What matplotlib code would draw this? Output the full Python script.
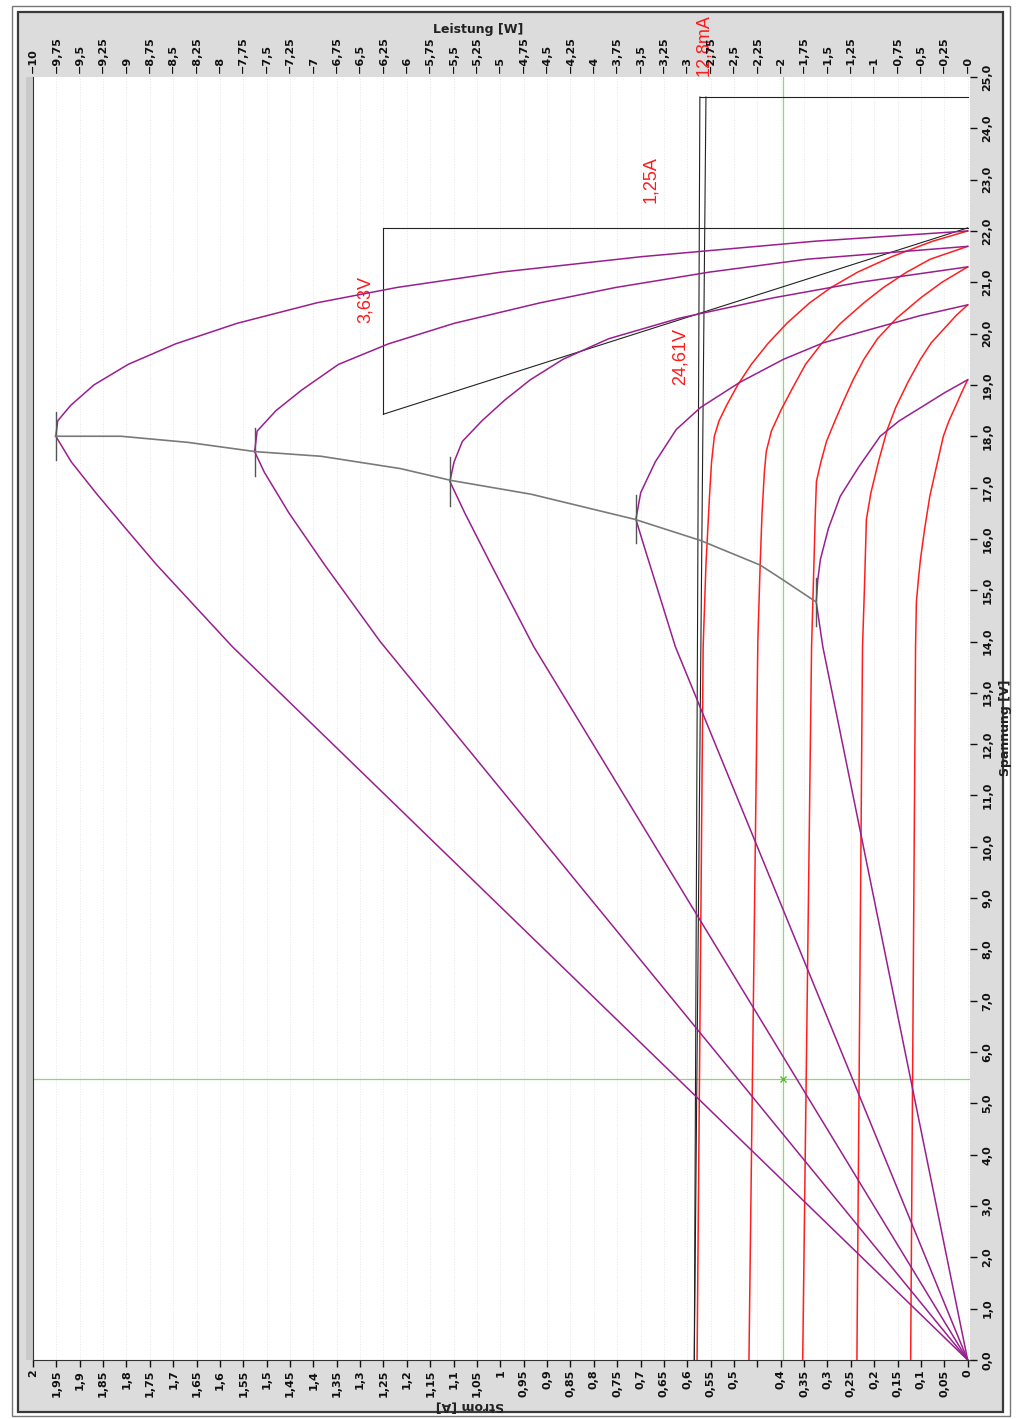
import numpy as np
import matplotlib
matplotlib.use("Agg")
import matplotlib.pyplot as plt
from matplotlib.patches import Rectangle

# Kennlinien (Spannung [V], Strom [A]) bei fünf Einstrahlungen
u1 = [0, 13.9, 15.5, 16.2, 16.9, 17.5, 18.0, 18.3, 18.6, 19.0, 19.4, 19.8, 20.2, 20.6, 20.9, 21.2, 21.5, 21.8, 22.0]
i1 = [0.579, 0.566, 0.560, 0.556, 0.552, 0.548, 0.542, 0.532, 0.516, 0.492, 0.463, 0.428, 0.387, 0.338, 0.292,
      0.235, 0.162, 0.075, 0.0]

u2 = [0, 14.0, 15.5, 16.5, 17.3, 17.7, 18.1, 18.5, 18.9, 19.4, 19.8, 20.2, 20.6, 20.9, 21.2, 21.45, 21.7]
i2 = [0.468, 0.449, 0.444, 0.440, 0.435, 0.431, 0.420, 0.400, 0.377, 0.347, 0.313, 0.272, 0.222, 0.180, 0.130,
      0.080, 0.0]

u3 = [0, 13.9, 15.5, 16.5, 17.12, 17.5, 17.9, 18.3, 18.7, 19.1, 19.5, 19.9, 20.3, 20.7, 21.0, 21.3]
i3 = [0.353, 0.334, 0.329, 0.326, 0.3236, 0.314, 0.302, 0.284, 0.265, 0.245, 0.222, 0.193, 0.152, 0.100, 0.055, 0.0]

u4 = [0, 13.9, 15.0, 15.8, 16.38, 16.9, 17.5, 18.13, 18.56, 19.05, 19.5, 19.82, 20.08, 20.35, 20.56]
i4 = [0.237, 0.225, 0.221, 0.2185, 0.2167, 0.207, 0.191, 0.172, 0.154, 0.128, 0.101, 0.078, 0.052, 0.025, 0.0]

u5 = [0, 13.9, 14.77, 15.2, 15.6, 16.2, 16.83, 17.4, 18.0, 18.3, 18.58, 18.85, 19.1]
i5 = [0.122, 0.1115, 0.1097, 0.1055, 0.101, 0.092, 0.081, 0.067, 0.052, 0.040, 0.026, 0.013, 0.0]

kennlinien = [(u1, i1), (u2, i2), (u3, i3), (u4, i4), (u5, i5)]

# MPP-Spur (Leistung [W], Spannung [V])
mpp_p = [-9.76, -9.06, -8.34, -7.62, -6.92, -6.07, -5.53, -4.67, -3.56, -2.86, -2.22, -2.0, -1.62]
mpp_u = [18.0, 18.0, 17.88, 17.70, 17.61, 17.37, 17.14, 16.87, 16.38, 15.97, 15.49, 15.23, 14.77]

# Steigungsdreiecke
dreieck_i = [1.25, 0.0]
dreieck_u = [18.43, 22.06]
parallel_i = [0.585, 0.573, 0.560]
parallel_u = [0.0, 24.61]

# Cursor
cursor_i = 0.395
cursor_u = 5.47

strom_ticks = np.round(np.arange(0, 2.0001, 0.05), 2)
leistung_ticks = np.round(np.arange(-10, 0.0001, 0.25), 2)
spannung_ticks = np.arange(0, 25.5, 1.0)

lila = "#9a1f8e"
rot = "#ff1e1e"
gruen = "#8fdc5c"

W, H = 1019, 1419
fig = plt.figure(figsize=(W / 100, H / 100), dpi=100, facecolor="white")

# grauer Fensterrahmen
fig.patches.append(Rectangle((18 / W, 7 / H), 985 / W, 1400 / H, transform=fig.transFigure,
                             facecolor="#dcdcdc", edgecolor="#3a3a3a", lw=1.6, zorder=-10))
fig.patches.append(Rectangle((12 / W, 3 / H), 998 / W, 1410 / H, transform=fig.transFigure,
                             facecolor="none", edgecolor="#777777", lw=1.0, zorder=-10))
fig.patches.append(Rectangle((26 / W, 59 / H), 7 / W, 1283 / H, transform=fig.transFigure,
                             facecolor="#c9c9c9", edgecolor="none", zorder=-9))

ax = fig.add_axes([33 / W, 59 / H, 937 / W, 1283 / H])
ax.set_facecolor("white")
ax.set_xlim(2.0, -0.005)
ax.set_ylim(0, 25)

ax2 = ax.twiny()
ax2.set_xlim(-10, 0.025)

ax.grid(axis="x", color="#e8e8e8", ls=":", lw=0.7)

for sp in ["top", "right"]:
    ax.spines[sp].set_visible(False)
    ax2.spines[sp].set_visible(False)
ax2.spines["left"].set_visible(False)
ax2.spines["bottom"].set_visible(False)
ax.spines["left"].set_color("#333333")
ax.spines["bottom"].set_color("#333333")

# I-U-Kennlinien
for u, i in kennlinien:
    ax.plot(i, u, color=rot, lw=1.1, zorder=3)

# Leistungskurven P = U*I (negativ aufgetragen)
for u, i in kennlinien:
    u = np.array(u)
    p = -u * np.array(i)
    ax2.plot(p, u, color=lila, lw=1.1, zorder=3)
    k = np.argmin(p)
    ax2.plot([p[k], p[k]], [u[k] - 0.47, u[k] + 0.47], color="#555555", lw=1.0, zorder=4)

ax2.plot(mpp_p, mpp_u, color="#7a7a7a", lw=1.2, zorder=4)

# Cursor
ax.axvline(cursor_i, color=gruen, lw=0.9, zorder=2)
ax.axhline(cursor_u, color=gruen, lw=0.9, zorder=2)
ax.plot(cursor_i, cursor_u, marker="x", color="#4cb82c", ms=4, mew=0.9, zorder=5)

# Dreieck Serienwiderstand
ax.plot([dreieck_i[0], dreieck_i[1]], [dreieck_u[1], dreieck_u[1]], color="#222222", lw=0.8, zorder=5)
ax.plot([dreieck_i[0], dreieck_i[0]], [dreieck_u[1], dreieck_u[0]], color="#222222", lw=0.8, zorder=5)
ax.plot([dreieck_i[0], dreieck_i[1]], [dreieck_u[0], dreieck_u[1]], color="#222222", lw=0.8, zorder=5)

# Dreieck Parallelwiderstand
ax.plot([parallel_i[0], parallel_i[1]], parallel_u, color="#222222", lw=0.8, zorder=5)
ax.plot([parallel_i[0], parallel_i[2]], parallel_u, color="#222222", lw=0.8, zorder=5)
ax.plot([parallel_i[1], 0.0], [parallel_u[1], parallel_u[1]], color="#222222", lw=0.8, zorder=5)

tf = dict(color="#ff1a1a", rotation=90, ha="center", va="center",
          family="Liberation Sans", fontsize=13, zorder=6)
ax.text(1.288, 20.66, "3,63V", **tf)
ax.text(0.615, 19.55, "24,61V", **tf)
ax.text(0.679, 23.0, "1,25A", **tf)
ax.text(0.566, 25.62, "12,8mA", clip_on=False, **tf)


def komma(v):
    s = f"{abs(v):g}".replace(".", ",")
    return s


fs = 8
ax.set_xticks(strom_ticks)
ax.set_xticklabels(["" if abs(v - 0.45) < 1e-9 else komma(v) for v in strom_ticks])
ax.tick_params(axis="x", direction="out", length=5, width=1, pad=2, labelsize=fs,
               labelrotation=90, colors="#111111")

ax.yaxis.tick_right()
ax.set_yticks(spannung_ticks)
ax.set_yticklabels([f"{v:.1f}".replace(".", ",") for v in spannung_ticks])
ax.tick_params(axis="y", direction="out", length=5, width=1, pad=4, labelsize=fs,
               labelrotation=90, colors="#111111")
for t in ax.get_yticklabels():
    t.set_va("center")

ax2.set_xticks(leistung_ticks)
ax2.set_xticklabels(["\u2212" + komma(v) for v in leistung_ticks])
ax2.tick_params(axis="x", direction="out", length=0, pad=3, labelsize=fs,
                labelrotation=90, colors="#111111")

for t in ax.get_xticklabels() + ax.get_yticklabels() + ax2.get_xticklabels():
    t.set_fontweight("bold")
    t.set_family("DejaVu Sans Condensed")

lab = dict(fontsize=9, fontweight="bold", family="DejaVu Sans Condensed", color="#222222")
fig.text(478 / W, 1 - 30 / H, "Leistung [W]", ha="center", va="center", **lab)
fig.text(1006 / W, 1 - 728 / H, "Spannung [V]", ha="center", va="center", rotation=90, **lab)
fig.text(470 / W, 1 - 1406 / H, "Strom [A]", ha="center", va="center", rotation=180, **lab)

fig.savefig("out.png", dpi=100, facecolor="white")
